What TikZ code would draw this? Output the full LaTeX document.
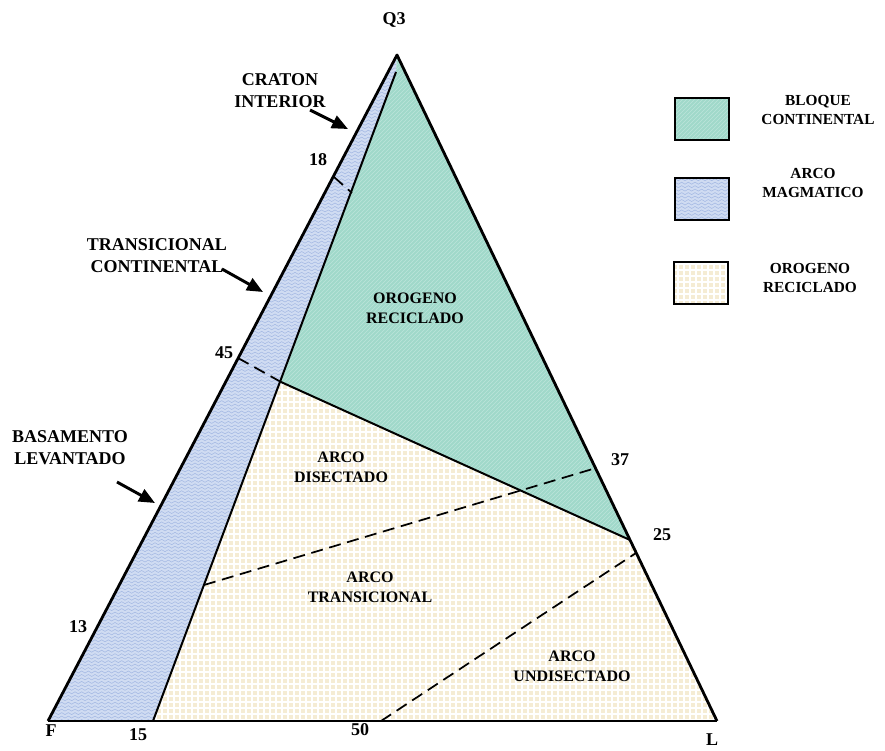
\documentclass[tikz,border=0pt]{standalone}
\usepackage{fontspec}
\setmainfont{Liberation Serif}
\usetikzlibrary{patterns,arrows.meta}
\pgfdeclarepatternformonly{waves}{\pgfqpoint{-1pt}{-1pt}}{\pgfqpoint{6pt}{3.5pt}}{\pgfqpoint{5pt}{2.6pt}}{%
  \pgfsetlinewidth{0.4pt}%
  \pgfpathmoveto{\pgfqpoint{0pt}{1.3pt}}%
  \pgfpathcurveto{\pgfqpoint{1.25pt}{2.3pt}}{\pgfqpoint{1.25pt}{2.3pt}}{\pgfqpoint{2.5pt}{1.3pt}}%
  \pgfpathcurveto{\pgfqpoint{3.75pt}{0.3pt}}{\pgfqpoint{3.75pt}{0.3pt}}{\pgfqpoint{5pt}{1.3pt}}%
  \pgfusepath{stroke}}
\pgfdeclarepatternformonly{wgrid}{\pgfqpoint{-1pt}{-1pt}}{\pgfqpoint{5pt}{5pt}}{\pgfqpoint{4.5pt}{4.5pt}}{%
  \pgfsetlinewidth{0.8pt}%
  \pgfpathmoveto{\pgfqpoint{0pt}{0pt}}\pgfpathlineto{\pgfqpoint{4.5pt}{0pt}}%
  \pgfpathmoveto{\pgfqpoint{0pt}{0pt}}\pgfpathlineto{\pgfqpoint{0pt}{4.5pt}}%
  \pgfusepath{stroke}}
\pgfdeclarepatternformonly{fineNE}{\pgfqpoint{-1pt}{-1pt}}{\pgfqpoint{4pt}{4pt}}{\pgfqpoint{3pt}{3pt}}{%
  \pgfsetlinewidth{0.5pt}%
  \pgfpathmoveto{\pgfqpoint{0pt}{0pt}}\pgfpathlineto{\pgfqpoint{3.1pt}{3.1pt}}%
  \pgfusepath{stroke}}
\definecolor{bloque}{HTML}{A0D9CA}
\definecolor{bloqueh}{HTML}{BCE5DA}
\definecolor{magma}{HTML}{D0DCF2}
\definecolor{magmaw}{HTML}{A3B8E3}
\definecolor{orog}{HTML}{F5ECD4}
\begin{document}
\begin{tikzpicture}[x=0.75pt,y=-0.75pt,
  edge/.style={line width=2.1pt, line join=round},
  innerline/.style={line width=1.5pt},
  dashline/.style={line width=1.3pt, dash pattern=on 9pt off 5pt},
  lbl/.style={font=\fontsize{13.5}{16.5}\selectfont\bfseries, align=center, inner sep=0pt},
  reg/.style={font=\fontsize{12}{15}\selectfont\bfseries, align=center, inner sep=0pt},
  leg/.style={font=\fontsize{11.5}{14.5}\selectfont\bfseries, align=center, inner sep=0pt},
  pointer/.style={-{Triangle[length=12pt,width=10pt]}, line width=2.2pt},
  bloquefill/.style={fill=bloque, postaction={pattern=fineNE, pattern color=bloqueh}},
  magmafill/.style={fill=magma, postaction={pattern=waves, pattern color=magmaw}},
  orogfill/.style={fill=orog, postaction={pattern=wgrid, pattern color=white}},
  legbox/.style={minimum width=41pt, minimum height=31pt, postaction={draw=black, line width=1.6pt}}]
\useasboundingbox (0,0) rectangle (885,750);
% vertices and key points
\coordinate (Q) at (397,55);
\coordinate (F) at (48,721);
\coordinate (L) at (717,721);
\coordinate (I1) at (396,72);
\coordinate (I2) at (153,721);
\coordinate (P18o) at (334,177);
\coordinate (P18i) at (352,193);
\coordinate (P45o) at (238,358);
\coordinate (P45i) at (281,382);
\coordinate (R25) at (630,540);
\coordinate (D1) at (204,585);
\coordinate (D1r) at (596,468);
\coordinate (D2) at (381,721);
\coordinate (D2r) at (636,553);
% fills
\path[magmafill] (Q) -- (F) -- (I2) -- (I1) -- cycle;
\path[bloquefill] (Q) -- (I1) -- (P45i) -- (R25) -- cycle;
\path[orogfill] (P45i) -- (R25) -- (L) -- (I2) -- cycle;
% lines
\draw[innerline] (I1) -- (I2);
\draw[innerline] (P45i) -- (R25);
\draw[dashline] (P18o) -- (P18i);
\draw[dashline] (P45o) -- (P45i);
\draw[dashline] (D1) -- (D1r);
\draw[dashline] (D2) -- (D2r);
\draw[edge] (F) -- (Q) -- (L);
\draw[line width=1.2pt] (F) -- (L);
% vertex and tick labels
\node[lbl] (q3) at (394,20) {Q3};
\node[lbl] (fl) at (51,731) {F};
\node[lbl] (ll) at (712,740) {L};
\node[lbl] (n15) at (138,735) {15};
\node[lbl] (n50) at (360,730) {50};
\node[lbl] (n13) at (78,627) {13};
\node[lbl] (n45) at (224,353) {45};
\node[lbl] (n18) at (318,160) {18};
\node[lbl] (n37) at (620,460) {37};
\node[lbl] (n25) at (662,535) {25};
% outside labels with pointers
\node[lbl] (craton) at (280,91) {CRATON\\INTERIOR};
\coordinate (a1s) at (310,110);
\coordinate (a1e) at (348,129);
\draw[pointer] (a1s) -- (a1e);
\node[lbl] (trans) at (157,256) {TRANSICIONAL\\CONTINENTAL};
\coordinate (a2s) at (222,269);
\coordinate (a2e) at (263,292);
\draw[pointer] (a2s) -- (a2e);
\node[lbl] (basa) at (70,448) {BASAMENTO\\LEVANTADO};
\coordinate (a3s) at (117,482);
\coordinate (a3e) at (155,503);
\draw[pointer] (a3s) -- (a3e);
% region labels
\node[reg] (orec) at (415,308) {OROGENO\\RECICLADO};
\node[reg] (adis) at (341,467) {ARCO\\DISECTADO};
\node[reg] (atra) at (370,587) {ARCO\\TRANSICIONAL};
\node[reg] (aund) at (572,666) {ARCO\\UNDISECTADO};
% legend
\node[bloquefill, legbox] (lb1) at (702,119) {};
\node[magmafill, legbox] (lb2) at (702,199) {};
\node[orogfill, legbox] (lb3) at (701,283) {};
\node[leg] (lt1) at (818,110) {BLOQUE\\CONTINENTAL};
\node[leg] (lt2) at (813,183) {ARCO\\MAGMATICO};
\node[leg] (lt3) at (810,278) {OROGENO\\RECICLADO};
\end{tikzpicture}
\end{document}
